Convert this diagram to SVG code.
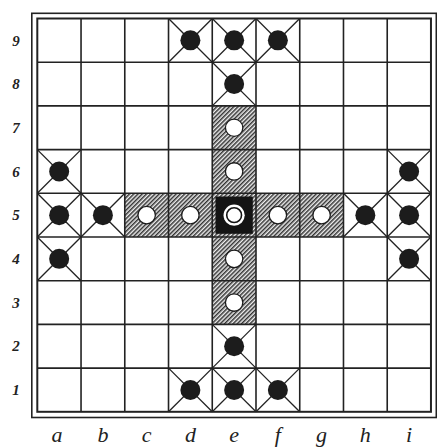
<svg xmlns="http://www.w3.org/2000/svg" width="437" height="447" viewBox="0 0 437 447">
<defs>
<pattern id="hatch" patternUnits="userSpaceOnUse" width="3" height="3" patternTransform="rotate(45)">
<rect width="3" height="3" fill="#eeeeee"/>
<line x1="0.75" y1="0" x2="0.75" y2="3" stroke="#333" stroke-width="1.5"/>
</pattern>
<symbol id="xmark" overflow="visible">
<line x1="0" y1="0" x2="43.74" y2="43.7"/>
<line x1="43.74" y1="0" x2="0" y2="43.7"/>
</symbol>
</defs>
<style>
.hatch{fill:url(#hatch);stroke:none}
.grid line{stroke:#222;stroke-width:1.6}
.x{stroke:#222;stroke-width:1.3}
.black{fill:#1c1c1c;stroke:none}
.white{fill:#fff;stroke:#1c1c1c;stroke-width:1.3}
.frame{fill:none;stroke:#222}
.num{font-family:"Liberation Serif",serif;font-style:italic;font-weight:bold;font-size:15px;fill:#222;text-anchor:middle}
.let{font-family:"Liberation Serif",serif;font-style:italic;font-size:22px;fill:#222;text-anchor:middle}
</style>
<rect width="437" height="447" fill="#fff"/>

<g id="hatched-cells">
<rect class="hatch" x="212.26" y="105.9" width="43.74" height="43.7"/>
<rect class="hatch" x="212.26" y="149.6" width="43.74" height="43.7"/>
<rect class="hatch" x="212.26" y="237" width="43.74" height="43.7"/>
<rect class="hatch" x="212.26" y="280.7" width="43.74" height="43.7"/>
<rect class="hatch" x="124.78" y="193.3" width="43.74" height="43.7"/>
<rect class="hatch" x="168.52" y="193.3" width="43.74" height="43.7"/>
<rect class="hatch" x="256" y="193.3" width="43.74" height="43.7"/>
<rect class="hatch" x="299.74" y="193.3" width="43.74" height="43.7"/>
<rect class="hatch" x="212.26" y="193.3" width="43.74" height="43.7"/>
<rect x="215.5" y="196.5" width="37.3" height="37.3" fill="#141414"/>
</g>

<g id="grid" class="grid">
<line x1="81.04" y1="18.5" x2="81.04" y2="411.8"/>
<line x1="124.78" y1="18.5" x2="124.78" y2="411.8"/>
<line x1="168.52" y1="18.5" x2="168.52" y2="411.8"/>
<line x1="212.26" y1="18.5" x2="212.26" y2="411.8"/>
<line x1="256" y1="18.5" x2="256" y2="411.8"/>
<line x1="299.74" y1="18.5" x2="299.74" y2="411.8"/>
<line x1="343.48" y1="18.5" x2="343.48" y2="411.8"/>
<line x1="387.22" y1="18.5" x2="387.22" y2="411.8"/>
<line x1="37.3" y1="62.2" x2="430.96" y2="62.2"/>
<line x1="37.3" y1="105.9" x2="430.96" y2="105.9"/>
<line x1="37.3" y1="149.6" x2="430.96" y2="149.6"/>
<line x1="37.3" y1="193.3" x2="430.96" y2="193.3"/>
<line x1="37.3" y1="237" x2="430.96" y2="237"/>
<line x1="37.3" y1="280.7" x2="430.96" y2="280.7"/>
<line x1="37.3" y1="324.4" x2="430.96" y2="324.4"/>
<line x1="37.3" y1="368.1" x2="430.96" y2="368.1"/>
</g>

<g id="frame">
<rect class="frame" x="37.3" y="18.5" width="393.66" height="393.3" stroke-width="2"/>
<rect class="frame" x="31.8" y="13.3" width="404.5" height="404.2" stroke-width="1.6"/>
</g>

<g id="connectors"></g>

<g id="d9" class="x"><use href="#xmark" x="168.52" y="18.5"/><circle class="black" cx="190.39" cy="40.35" r="10"/></g>
<g id="e9" class="x"><use href="#xmark" x="212.26" y="18.5"/><circle class="black" cx="234.13" cy="40.35" r="10"/></g>
<g id="f9" class="x"><use href="#xmark" x="256" y="18.5"/><circle class="black" cx="277.87" cy="40.35" r="10"/></g>
<g id="e8" class="x"><use href="#xmark" x="212.26" y="62.2"/><circle class="black" cx="234.13" cy="84.05" r="10"/></g>
<g id="a6" class="x"><use href="#xmark" x="37.3" y="149.6"/><circle class="black" cx="59.17" cy="171.45" r="10"/></g>
<g id="a5" class="x"><use href="#xmark" x="37.3" y="193.3"/><circle class="black" cx="59.17" cy="215.15" r="10"/></g>
<g id="a4" class="x"><use href="#xmark" x="37.3" y="237"/><circle class="black" cx="59.17" cy="258.85" r="10"/></g>
<g id="b5" class="x"><use href="#xmark" x="81.04" y="193.3"/><circle class="black" cx="102.91" cy="215.15" r="10"/></g>
<g id="h5" class="x"><use href="#xmark" x="343.48" y="193.3"/><circle class="black" cx="365.35" cy="215.15" r="10"/></g>
<g id="i6" class="x"><use href="#xmark" x="387.22" y="149.6"/><circle class="black" cx="409.09" cy="171.45" r="10"/></g>
<g id="i5" class="x"><use href="#xmark" x="387.22" y="193.3"/><circle class="black" cx="409.09" cy="215.15" r="10"/></g>
<g id="i4" class="x"><use href="#xmark" x="387.22" y="237"/><circle class="black" cx="409.09" cy="258.85" r="10"/></g>
<g id="e2" class="x"><use href="#xmark" x="212.26" y="324.4"/><circle class="black" cx="234.13" cy="346.25" r="10"/></g>
<g id="d1" class="x"><use href="#xmark" x="168.52" y="368.1"/><circle class="black" cx="190.39" cy="389.95" r="10"/></g>
<g id="e1" class="x"><use href="#xmark" x="212.26" y="368.1"/><circle class="black" cx="234.13" cy="389.95" r="10"/></g>
<g id="f1" class="x"><use href="#xmark" x="256" y="368.1"/><circle class="black" cx="277.87" cy="389.95" r="10"/></g>

<g id="e7"><circle class="white" cx="234.13" cy="127.75" r="8.7"/></g>
<g id="e6"><circle class="white" cx="234.13" cy="171.45" r="8.7"/></g>
<g id="e4"><circle class="white" cx="234.13" cy="258.85" r="8.7"/></g>
<g id="e3"><circle class="white" cx="234.13" cy="302.55" r="8.7"/></g>
<g id="c5"><circle class="white" cx="146.65" cy="215.15" r="8.7"/></g>
<g id="d5"><circle class="white" cx="190.39" cy="215.15" r="8.7"/></g>
<g id="f5"><circle class="white" cx="277.87" cy="215.15" r="8.7"/></g>
<g id="g5"><circle class="white" cx="321.61" cy="215.15" r="8.7"/></g>
<g id="e5">
<circle cx="234.13" cy="215.15" r="10.6" fill="#fff"/>
<circle cx="234.13" cy="215.15" r="7.4" fill="#fff" stroke="#141414" stroke-width="1.6"/>
</g>

<g id="row-labels">
<text class="num" x="16" y="45.5">9</text>
<text class="num" x="16" y="89.2">8</text>
<text class="num" x="16" y="132.9">7</text>
<text class="num" x="16" y="176.6">6</text>
<text class="num" x="16" y="220.3">5</text>
<text class="num" x="16" y="264">4</text>
<text class="num" x="16" y="307.7">3</text>
<text class="num" x="16" y="351.4">2</text>
<text class="num" x="16" y="395.1">1</text>
</g>
<g id="col-labels">
<text class="let" x="57" y="442">a</text>
<text class="let" x="102.9" y="442">b</text>
<text class="let" x="146.6" y="442">c</text>
<text class="let" x="190.4" y="442">d</text>
<text class="let" x="234.1" y="442">e</text>
<text class="let" x="277.9" y="442">f</text>
<text class="let" x="321.6" y="442">g</text>
<text class="let" x="365.3" y="442">h</text>
<text class="let" x="409.1" y="442">i</text>
</g>
</svg>
